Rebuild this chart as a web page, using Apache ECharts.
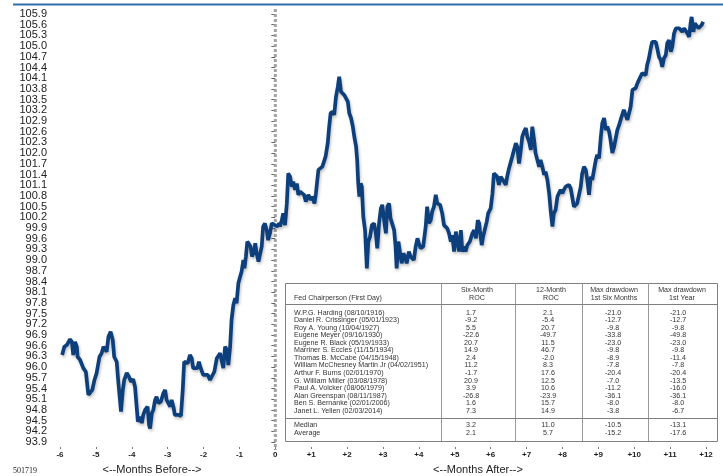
<!DOCTYPE html>
<html>
<head>
<meta charset="utf-8">
<script src="https://cdn.jsdelivr.net/npm/echarts@6/dist/echarts.min.js"></script>
<style>
html,body{margin:0;padding:0;background:#fff;}
#main{width:723px;height:476px;}
</style>
</head>
<body>
<div id="main"></div>
<script>
// ---- Data: months relative to first day in office, index level ----
const months = [
-5.94,-5.88,-5.81,-5.77,-5.72,-5.67,-5.63,-5.58,-5.53,-5.51,-5.44,-5.35,-5.28,-5.21,-5.16,-5.10,-5.04,-4.98,-4.90,-4.84,
-4.79,-4.75,-4.70,-4.65,-4.59,-4.53,-4.49,-4.42,-4.38,-4.30,-4.25,-4.21,-4.14,-4.08,-4.02,-3.96,-3.91,-3.83,-3.77,-3.72,
-3.68,-3.63,-3.56,-3.52,-3.49,-3.44,-3.40,-3.35,-3.31,-3.26,-3.19,-3.12,-3.07,-3.03,-2.98,-2.93,-2.89,-2.84,-2.80,-2.70,
-2.63,-2.58,-2.54,-2.49,-2.44,-2.38,-2.33,-2.29,-2.24,-2.17,-2.13,-2.08,-2.01,-1.96,-1.88,-1.82,-1.77,-1.70,-1.63,-1.59,
-1.54,-1.49,-1.45,-1.40,-1.35,-1.31,-1.26,-1.22,-1.17,-1.12,-1.08,-1.03,-0.98,-0.94,-0.89,-0.86,-0.82,-0.78,-0.73,-0.69,
-0.65,-0.59,-0.56,-0.52,-0.47,-0.43,-0.38,-0.34,-0.29,-0.24,-0.20,-0.15,-0.10,-0.06,-0.01,0.05,0.11,
0.13,0.18,0.22,0.27,0.32,0.36,0.41,0.46,0.50,0.55,0.60,0.64,0.69,0.73,0.80,0.85,0.92,0.99,1.03,1.09,
1.13,1.20,1.24,1.31,1.36,1.40,1.46,1.50,1.54,1.60,1.64,1.69,1.74,1.78,1.83,1.88,1.92,1.97,2.02,2.06,
2.11,2.16,2.20,2.25,2.28,2.31,2.34,2.38,2.41,2.45,2.50,2.55,2.59,2.64,2.69,2.75,2.80,2.84,2.89,2.94,
2.98,3.03,3.08,3.12,3.17,3.21,3.26,3.31,3.35,3.38,3.43,3.47,3.52,3.57,3.61,3.66,3.72,3.77,3.82,3.86,
3.91,3.96,4.00,4.05,4.12,4.19,4.23,4.28,4.33,4.37,4.42,4.47,4.51,4.59,4.65,4.70,4.75,4.79,4.84,4.89,
4.93,4.98,5.03,5.07,5.12,5.17,5.21,5.26,5.30,5.35,5.42,5.49,5.54,5.59,5.64,5.68,5.70,5.75,5.79,5.84,
5.89,5.93,6.00,6.05,6.09,6.14,6.18,6.23,6.28,6.32,6.37,6.42,6.46,6.51,6.56,6.60,6.65,6.70,6.74,6.79,
6.84,6.88,6.93,6.98,7.02,7.07,7.12,7.16,7.21,7.25,7.30,7.35,7.39,7.44,7.49,7.53,7.58,7.63,7.67,7.72,
7.76,7.81,7.86,7.90,7.95,8.00,8.04,8.09,8.14,8.18,8.23,8.27,8.32,8.37,8.41,8.46,8.51,8.55,8.60,8.65,
8.69,8.74,8.79,8.83,8.88,8.93,8.97,9.02,9.07,9.11,9.16,9.21,9.25,9.30,9.34,9.39,9.44,9.48,9.53,9.58,
9.62,9.67,9.71,9.76,9.81,9.85,9.90,9.95,9.99,10.04,10.09,10.13,10.18,10.22,10.27,10.32,10.36,10.41,10.46,10.50,
10.55,10.60,10.64,10.69,10.74,10.78,10.83,10.88,10.92,10.97,11.02,11.06,11.11,11.16,11.20,11.25,11.29,11.34,11.39,11.43,
11.48,11.53,11.57,11.60,11.65,11.69,11.74,11.79,11.83,11.88,11.92
];
const indexValues = [
96.34,96.57,96.62,96.67,96.78,96.71,96.34,96.71,96.57,96.29,96.20,95.97,95.87,95.22,95.17,95.36,95.64,95.83,96.29,96.39,
96.57,96.62,96.43,96.85,96.99,96.76,96.29,96.15,95.64,94.75,95.36,95.64,95.84,95.73,95.59,95.66,95.45,94.47,94.61,94.43,
94.66,94.80,94.89,94.38,94.28,94.71,94.80,95.08,95.17,94.99,95.03,95.27,95.36,95.08,95.13,94.89,95.08,94.89,94.66,94.66,
94.63,95.36,96.15,96.20,96.11,96.34,96.25,95.97,96.01,95.97,96.15,95.97,95.78,95.73,95.78,95.64,95.69,95.87,96.25,96.29,
96.39,96.40,95.97,96.57,96.48,96.06,96.57,97.32,97.74,97.93,97.79,98.35,98.54,98.68,99.00,98.77,99.10,99.52,99.56,99.38,
99.10,99.24,99.47,99.19,98.96,98.91,99.38,99.94,100.03,99.84,99.56,99.75,100.03,100.08,99.98,99.94,100.03,
99.94,100.12,100.31,99.98,100.59,101.43,101.34,101.06,101.20,100.97,101.15,100.83,100.92,100.87,100.83,100.64,100.83,100.69,100.78,100.59,
100.87,101.53,101.57,101.62,101.57,101.90,102.28,102.74,103.12,103.16,103.07,103.58,103.86,104.14,103.72,103.72,103.63,103.58,103.44,103.12,
102.98,102.74,102.46,102.18,101.81,101.15,100.78,101.15,101.06,100.22,99.84,98.77,99.52,99.66,99.98,100.03,99.75,99.33,100.03,100.45,
100.55,100.12,99.75,100.50,100.59,100.17,100.12,99.84,99.38,98.77,99.52,99.24,98.91,99.19,99.10,98.91,99.24,99.10,99.05,99.00,
99.38,99.61,99.47,99.33,99.38,99.94,100.50,100.03,100.12,100.36,100.50,100.83,100.59,100.55,100.31,99.98,100.03,99.89,99.75,99.52,
99.70,99.24,99.80,99.52,99.24,99.84,99.24,99.38,99.24,99.42,99.52,99.75,99.84,99.61,100.12,100.03,99.84,99.42,99.66,99.70,
100.08,100.31,100.45,100.87,101.43,101.43,101.34,101.11,101.34,101.39,101.20,101.11,101.34,101.57,101.62,101.90,101.95,102.28,102.18,101.71,
102.09,102.46,102.60,102.70,102.46,102.32,102.09,102.74,102.37,102.00,101.81,101.62,101.81,101.62,101.39,101.48,101.25,100.87,100.41,99.94,
100.31,100.41,100.78,100.87,100.97,100.87,100.97,101.06,101.11,101.11,101.01,100.78,100.50,100.45,100.59,100.64,101.06,101.43,101.62,101.53,
101.25,100.83,101.34,101.25,101.53,101.81,101.95,101.85,102.46,102.84,102.98,102.65,102.74,102.60,102.37,102.00,102.18,102.23,102.65,102.79,
102.93,102.98,103.21,103.07,102.93,102.93,103.30,103.77,103.82,103.82,103.96,104.05,104.05,104.24,104.28,104.19,104.47,104.66,104.94,105.12,
105.17,105.12,104.94,104.70,104.61,104.42,104.66,104.75,105.08,105.17,104.84,104.98,105.36,105.50,105.45,105.50,105.54,105.40,105.50,105.45,
105.36,105.26,105.64,105.82,105.40,105.64,105.68,105.50,105.54,105.59,105.68
];

// ---- Axis tick values ----
const yTickValues = [93.9,94.2,94.5,94.8,95.1,95.4,95.7,96.0,96.3,96.6,96.9,97.2,97.5,97.8,98.1,98.4,98.7,99.0,99.3,99.6,
  99.9,100.2,100.5,100.8,101.1,101.4,101.7,102.0,102.3,102.6,102.9,103.2,103.5,103.8,104.1,104.4,104.7,105.0,105.3,105.6,105.9];
const xTickValues = [-6,-5,-4,-3,-2,-1,0,1,2,3,4,5,6,7,8,9,10,11,12];

// ---- Table data ----
const tableHeaders = [["Fed Chairperson (First Day)"], ["Six-Month", "ROC"], ["12-Month", "ROC"], ["Max drawdown", "1st Six Months"], ["Max drawdown", "1st Year"]];
const chairNames = [
"W.P.G. Harding (08/10/1916)",
"Daniel R. Crissinger (05/01/1923)",
"Roy A. Young (10/04/1927)",
"Eugene Meyer (09/16/1930)",
"Eugene R. Black (05/19/1933)",
"Marriner S. Eccles (11/15/1934)",
"Thomas B. McCabe (04/15/1948)",
"William McChesney Martin Jr (04/02/1951)",
"Arthur F. Burns (02/01/1970)",
"G. William Miller (03/08/1978)",
"Paul A. Volcker (08/06/1979)",
"Alan Greenspan (08/11/1987)",
"Ben S. Bernanke (02/01/2006)",
"Janet L. Yellen (02/03/2014)"
];
const sixMonthROC = [1.7,-9.2,5.5,-22.6,20.7,14.9,2.4,11.2,-1.7,20.9,3.9,-26.8,1.6,7.3];
const twelveMonthROC = [2.1,-5.4,20.7,-49.7,11.5,46.7,-2.0,8.3,17.6,12.5,10.6,-23.9,15.7,14.9];
const drawdownSix = [-21.0,-12.7,-9.8,-33.8,-23.0,-9.8,-8.9,-7.8,-20.4,-7.0,-11.2,-36.1,-8.0,-3.8];
const drawdownYear = [-21.0,-12.7,-9.8,-49.8,-23.0,-9.8,-11.4,-7.8,-20.4,-13.5,-16.0,-36.1,-8.0,-6.7];
const summaryLabels = ["Median", "Average"];
const summarySix = [3.2, 2.1];
const summaryTwelve = [11.0, 5.7];
const summaryDd6 = [-10.5, -15.2];
const summaryDd12 = [-13.1, -17.6];

const seriesData = months.map((m, i) => [m, indexValues[i]]);

const chart = echarts.init(document.getElementById('main'), null, {renderer: 'canvas'});

const FONT = '"Liberation Sans", Arial, sans-serif';

function buildTable() {
  const L = 285, T = 283, R = 717, B = 441;
  const colX = [441, 515, 582, 648];
  const hY = [304, 418];
  const els = [];
  els.push({type: 'rect', shape: {x: L + 0.5, y: T + 0.5, width: R - L, height: B - T},
    style: {fill: '#fff', stroke: '#7f7f7f', lineWidth: 1}, z: 10});
  colX.forEach(x => els.push({type: 'line', shape: {x1: x + 0.5, y1: T, x2: x + 0.5, y2: B},
    style: {stroke: '#9a9a9a', lineWidth: 1}, z: 11}));
  hY.forEach(y => els.push({type: 'line', shape: {x1: L, y1: y + 0.5, x2: R, y2: y + 0.5},
    style: {stroke: '#7f7f7f', lineWidth: 1}, z: 11}));
  const txt = (s, x, y, align) => els.push({type: 'text', z: 12,
    style: {text: s, x: x, y: y, fill: '#333', font: '7.1px ' + FONT, align: align, verticalAlign: 'middle'}});
  txt(tableHeaders[0][0], 294, 298, 'left');
  const hCenters = [477, 551, 614, 682];
  for (let c = 1; c < tableHeaders.length; c++) {
    txt(tableHeaders[c][0], hCenters[c - 1], 290.5, 'center');
    txt(tableHeaders[c][1], hCenters[c - 1], 298, 'center');
  }
  const nCenters = [471, 548, 613, 678];
  const f = v => v.toFixed(1);
  chairNames.forEach((n, i) => {
    const y = 312.7 + i * 7.54;
    txt(n, 294, y, 'left');
    txt(f(sixMonthROC[i]), nCenters[0], y, 'center');
    txt(f(twelveMonthROC[i]), nCenters[1], y, 'center');
    txt(f(drawdownSix[i]), nCenters[2], y, 'center');
    txt(f(drawdownYear[i]), nCenters[3], y, 'center');
  });
  summaryLabels.forEach((n, i) => {
    const y = 425.5 + i * 8;
    txt(n, 294, y, 'left');
    txt(f(summarySix[i]), nCenters[0], y, 'center');
    txt(f(summaryTwelve[i]), nCenters[1], y, 'center');
    txt(f(summaryDd6[i]), nCenters[2], y, 'center');
    txt(f(summaryDd12[i]), nCenters[3], y, 'center');
  });
  return els;
}

const yLo = yTickValues[0], yHi = yTickValues[yTickValues.length - 1];
// two label layers on the same scale (alternating ticks) so no tick label gets dropped for overlap
const yEven = yTickValues.filter((v, i) => i % 2 === 0);
const yOdd = yTickValues.filter((v, i) => i % 2 === 1);

function yAxisDef(labelValues, showTicks) {
  return {
    type: 'value', min: yLo, max: yHi, interval: 0.3, offset: 4, position: 'left',
    axisLine: {show: false},
    axisTick: {show: showTicks, length: 4, lineStyle: {color: '#666', width: 1}, customValues: yTickValues},
    splitLine: {show: false},
    axisLabel: {
      customValues: labelValues,
      formatter: v => v.toFixed(1),
      fontSize: 11, color: '#222', margin: 9, fontFamily: FONT,
      showMinLabel: true, showMaxLabel: true, hideOverlap: false
    }
  };
}

const option = {
  animation: false,
  backgroundColor: '#fff',
  grid: {left: 60, right: 17, top: 14, bottom: 34, containLabel: false},
  xAxis: {
    type: 'value', min: -6, max: 12, interval: 1, offset: 5,
    axisLine: {show: false},
    axisTick: {show: true, length: 2, lineStyle: {color: '#777', width: 1}, customValues: xTickValues},
    splitLine: {show: false},
    axisLabel: {
      customValues: xTickValues,
      formatter: v => (v > 0 ? '+' + v : String(v)),
      fontSize: 8, fontWeight: 'bold', color: '#222', margin: 4, fontFamily: FONT,
      showMinLabel: true, showMaxLabel: true
    }
  },
  yAxis: [yAxisDef(yEven, true), yAxisDef(yOdd, false)],
  series: [{
    type: 'line',
    yAxisIndex: 0,
    data: seriesData,
    showSymbol: false,
    symbol: 'none',
    smooth: false,
    z: 5,
    lineStyle: {color: '#0d3f7c', width: 3.7, shadowColor: 'rgba(0,0,0,0.25)', shadowBlur: 3, shadowOffsetX: 1, shadowOffsetY: 2}
  }],
  graphic: []
};

chart.setOption(option);

const x0 = chart.convertToPixel({xAxisIndex: 0}, 0);
const gfx = [
  {type: 'line', shape: {x1: 13, y1: 4.5, x2: 723, y2: 4.5}, style: {stroke: '#2f6ea8', lineWidth: 2}, z: 1},
  {type: 'line', shape: {x1: x0, y1: 9, x2: x0, y2: 450}, style: {stroke: '#a3a3a3', lineWidth: 3, lineDash: [3, 2]}, z: 2},
  {type: 'text', style: {text: '501719', x: 13, y: 471, fill: '#222', font: '8px "Liberation Serif", serif', align: 'left', verticalAlign: 'middle'}},
  {type: 'text', style: {text: '<--Months Before-->', x: 152, y: 470, fill: '#222', font: '11px ' + FONT, align: 'center', verticalAlign: 'middle'}},
  {type: 'text', style: {text: '<--Months After-->', x: 478, y: 470, fill: '#222', font: '11px ' + FONT, align: 'center', verticalAlign: 'middle'}}
].concat(buildTable());

chart.setOption({graphic: gfx});
</script>
</body>
</html>
